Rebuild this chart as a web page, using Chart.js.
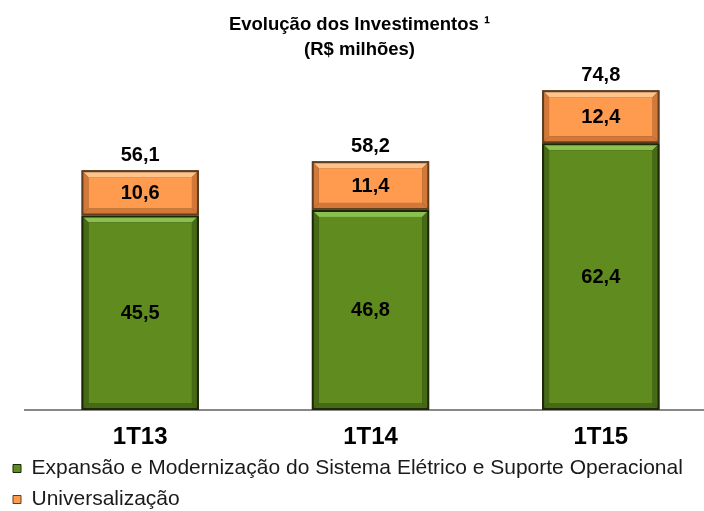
<!DOCTYPE html>
<html>
<head>
<meta charset="utf-8">
<script src="https://cdn.jsdelivr.net/npm/chart.js@4/dist/chart.umd.min.js"></script>
<style>
  html, body { margin: 0; padding: 0; background: #fff; }
  #wrap { width: 704px; height: 511px; overflow: hidden; }
</style>
</head>
<body>
<div id="wrap"><canvas id="chart" width="716" height="520"></canvas></div>
<script>
const categories = ['1T13', '1T14', '1T15'];
const expansao = [45.5, 46.8, 62.4];
const universalizacao = [10.6, 11.4, 12.4];
const totals = [56.1, 58.2, 74.8];

const seriesNames = [
    'Expansão e Modernização do Sistema Elétrico e Suporte Operacional',
    'Universalização'
];

// bevel colours per dataset
const looks = [
    { face: '#5f8b1f', light: '#8cc04e', shade: '#466a16', edge: '#1c2806' },
    { face: '#ff9b4e', light: '#ffc48c', shade: '#d4783a', edge: '#5e3e20' }
];

const FONT = '"Liberation Sans", Arial, sans-serif';
const fmt = v => v.toFixed(1).replace('.', ',');

function drawBevel(ctx, l, t, r, b, c) {
    const e = 2, s = 5;
    ctx.fillStyle = c.edge;
    ctx.fillRect(l, t, r - l, b - t);
    const L = l + e, T = t + e, R = r - e, B = b - e;
    const poly = (pts, col) => {
        ctx.fillStyle = col;
        ctx.beginPath();
        ctx.moveTo(pts[0], pts[1]);
        for (let i = 2; i < pts.length; i += 2) ctx.lineTo(pts[i], pts[i + 1]);
        ctx.closePath();
        ctx.fill();
    };
    poly([L, T, R, T, R - s, T + s, L + s, T + s], c.light);
    poly([L, B, R, B, R - s, B - s, L + s, B - s], c.shade);
    poly([L, T, L + s, T + s, L + s, B - s, L, B], c.shade);
    poly([R, T, R - s, T + s, R - s, B - s, R, B], c.shade);
    ctx.fillStyle = c.face;
    ctx.fillRect(L + s, T + s, R - L - 2 * s, B - T - 2 * s);
}

const barLook = {
    id: 'barLook',
    afterDatasetsDraw(chart) {
        const ctx = chart.ctx;
        ctx.save();
        chart.data.datasets.forEach((ds, di) => {
            chart.getDatasetMeta(di).data.forEach(el => {
                const p = el.getProps(['x', 'y', 'base', 'width'], true);
                drawBevel(ctx, p.x - p.width / 2, Math.min(p.y, p.base), p.x + p.width / 2, Math.max(p.y, p.base), looks[di]);
            });
        });
        // values
        ctx.fillStyle = '#000';
        ctx.font = 'bold 20px ' + FONT;
        ctx.textAlign = 'center';
        ctx.textBaseline = 'middle';
        chart.data.datasets.forEach((ds, di) => {
            chart.getDatasetMeta(di).data.forEach((el, i) => {
                const p = el.getProps(['x', 'y', 'base'], true);
                ctx.fillText(fmt(ds.data[i]), p.x, (p.y + p.base) / 2 + 1);
            });
        });
        const top = chart.getDatasetMeta(chart.data.datasets.length - 1).data;
        top.forEach((el, i) => {
            const p = el.getProps(['x', 'y'], true);
            ctx.fillText(fmt(totals[i]), p.x, p.y - 15);
        });
        ctx.restore();
    }
};

new Chart(document.getElementById('chart'), {
    type: 'bar',
    data: {
        labels: categories,
        datasets: [
            { label: seriesNames[0], data: expansao, backgroundColor: looks[0].face, borderColor: looks[0].edge, borderWidth: 1 },
            { label: seriesNames[1], data: universalizacao, backgroundColor: looks[1].face, borderColor: looks[1].edge, borderWidth: 1 }
        ]
    },
    options: {
        responsive: false,
        animation: false,
        layout: { padding: { left: 3, right: 0, top: 0, bottom: 0 } },
        scales: {
            x: {
                stacked: true,
                grid: { display: false },
                border: { color: '#888', width: 2 },
                ticks: { color: '#000', padding: 5, font: { family: FONT, size: 24, weight: 'bold' } },
                afterFit: s => { s.height = 38; }
            },
            y: {
                stacked: true,
                min: 0,
                max: 80,
                grid: { display: false },
                border: { display: false },
                ticks: { display: false },
                afterFit: s => { s.width = 22; }
            }
        },
        datasets: { bar: { categoryPercentage: 1, barPercentage: 0.51 } },
        plugins: {
            title: {
                display: true,
                text: ['Evolução dos Investimentos ¹', '(R$ milhões)'],
                color: '#000',
                font: { family: FONT, size: 18.5, weight: 'bold', lineHeight: 1.35 },
                padding: { top: 12, bottom: 6 }
            },
            legend: {
                position: 'bottom',
                align: 'start',
                labels: {
                    color: '#1a1a1a',
                    boxWidth: 8,
                    boxHeight: 8,
                    padding: 10,
                    font: { family: FONT, size: 21 }
                }
            },
            tooltip: { enabled: false }
        }
    },
    plugins: [barLook]
});
</script>
</body>
</html>
